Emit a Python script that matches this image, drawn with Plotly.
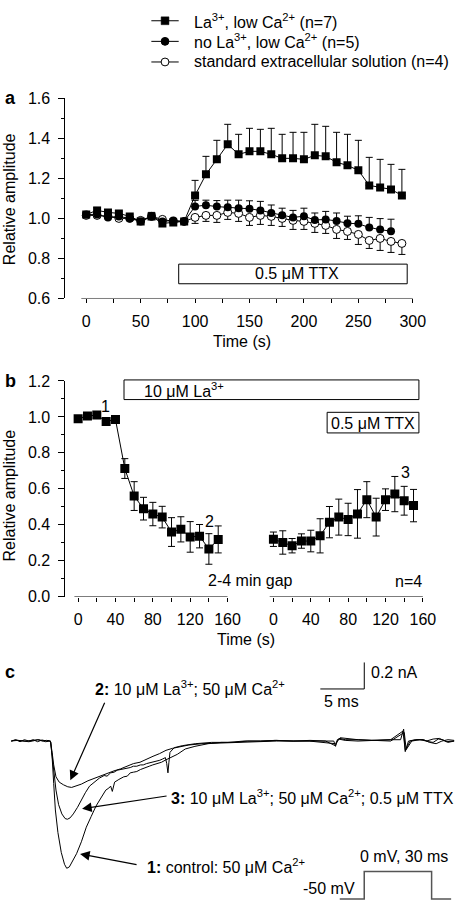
import plotly.graph_objects as go

W, H = 468, 912
FONT = "Liberation Sans, Arial, Helvetica, sans-serif"
FS = 16
LFS = 16

# ---------------- Panel a data ----------------
t_a = [0, 10, 20, 30, 40, 50, 60, 70, 80, 90, 100, 110, 120, 130, 140, 150, 160, 170, 180, 190,
       200, 210, 220, 230, 240, 250, 260, 270, 280, 290]
la_low = [1.02, 1.04, 1.03, 1.025, 1.01, 0.985, 1.01, 0.975, 0.98, 0.985, 1.115, 1.22, 1.295, 1.37, 1.32,
          1.335, 1.335, 1.32, 1.30, 1.30, 1.295, 1.315, 1.31, 1.28, 1.265, 1.24, 1.165, 1.155, 1.145, 1.115]
la_low_err = [0.01, 0.015, 0.01, 0.01, 0.01, 0.01, 0.02, 0.01, 0.01, 0.01, 0.075, 0.09, 0.095, 0.10, 0.10,
              0.115, 0.11, 0.13, 0.12, 0.13, 0.135, 0.155, 0.15, 0.15, 0.155, 0.15, 0.14, 0.14, 0.125, 0.13]

t_nola = [0, 10, 20, 30, 40, 50, 60, 70, 80, 90, 100, 110, 120, 130, 140, 150, 160, 170, 180, 190,
          200, 210, 220, 230, 240, 250, 260, 270, 280]
nola_low = [1.02, 1.02, 1.005, 1.01, 1.0, 0.985, 1.01, 0.985, 0.99, 0.985, 1.06, 1.066, 1.059, 1.056, 1.051,
            1.048, 1.04, 1.027, 1.016, 1.005, 1.011, 0.992, 0.995, 0.987, 0.976, 0.973, 0.955, 0.944, 0.936]
nola_low_err = [0.01, 0.01, 0.01, 0.01, 0.01, 0.01, 0.01, 0.01, 0.01, 0.01, 0.03, 0.025, 0.03, 0.035, 0.04,
                0.04, 0.045, 0.04, 0.035, 0.035, 0.04, 0.035, 0.04, 0.04, 0.035, 0.04, 0.05, 0.055, 0.06]

t_std = t_a
std_sol = [1.015, 1.015, 1.01, 1.0, 1.0, 0.99, 1.01, 0.995, 0.985, 0.985, 1.005, 1.015, 1.015, 1.03, 1.025,
           1.005, 1.015, 1.01, 1.0, 0.99, 0.985, 0.975, 0.965, 0.945, 0.935, 0.92, 0.89, 0.90, 0.885, 0.875]
std_sol_err = [0.01, 0.01, 0.01, 0.01, 0.01, 0.01, 0.01, 0.01, 0.01, 0.01, 0.03, 0.03, 0.035, 0.035, 0.04,
               0.04, 0.045, 0.045, 0.04, 0.045, 0.04, 0.045, 0.04, 0.045, 0.04, 0.05, 0.04, 0.06, 0.055, 0.055]

series_names = ["La<sup>3+</sup>, low Ca<sup>2+</sup> (n=7)",
                "no La<sup>3+</sup>, low Ca<sup>2+</sup> (n=5)",
                "standard extracellular solution (n=4)"]

a_xticks = [0, 50, 100, 150, 200, 250, 300]
a_yticks = [0.6, 0.8, 1.0, 1.2, 1.4, 1.6]

# ---------------- Panel b data ----------------
t_b = [0, 10, 20, 30, 40, 50, 60, 70, 80, 90, 100, 110, 120, 130, 140, 150]
b_before = [0.99, 1.005, 1.01, 0.975, 0.985, 0.713, 0.56, 0.49, 0.46, 0.443, 0.36, 0.375, 0.333, 0.337, 0.266, 0.319]
b_before_err = [0.01, 0.01, 0.01, 0.01, 0.01, 0.055, 0.08, 0.063, 0.065, 0.06, 0.08, 0.07, 0.085, 0.065, 0.085, 0.075]
b_after = [0.32, 0.302, 0.284, 0.31, 0.31, 0.339, 0.415, 0.443, 0.43, 0.461, 0.54, 0.443, 0.54, 0.571, 0.534, 0.507]
b_after_err = [0.04, 0.065, 0.04, 0.04, 0.06, 0.095, 0.087, 0.1, 0.09, 0.135, 0.1, 0.105, 0.06, 0.098, 0.08, 0.09]
b_xticks = [0, 40, 80, 120, 160]
b_yticks = [0.0, 0.2, 0.4, 0.6, 0.8, 1.0, 1.2]

# ---------------- Panel c data (ms, nA) ----------------
t1 = [-4.5, -4.0, -3.5, -3.0, -2.5, -2.0, -1.5, -1.0, -0.5, -0.2, 0.0, 0.15, 0.33, 0.52, 0.81, 1.19, 1.56, 1.81,
      2.11, 2.44, 2.93, 3.48, 4.04, 4.59, 5.15, 5.70, 6.26, 6.6, 6.81, 7.0, 7.26, 7.74, 8.3, 8.7, 9.04, 9.4, 9.78,
      10.2, 10.7, 11.2, 11.6, 12.1, 12.6, 13.0, 13.5, 14.0, 14.4, 15.3, 16.4, 17.9, 19.4, 20.9, 22.4, 23.9, 25.5,
      27.6, 29.5, 31.3, 32.2, 32.4, 32.6, 32.9, 33.5, 35.0, 36.5, 38.7, 39.8, 40.15, 40.33, 40.7, 41.5, 42.4,
      43.0, 43.5, 44.1, 44.6, 45.2, 45.9]
i_control = [0.0, 0.01, -0.005, 0.01, 0.0, 0.01, -0.005, 0.008, 0.0, 0.005, -0.01, -0.12, -0.32, -0.52, -0.69,
             -0.84, -0.93, -0.96, -0.95, -0.91, -0.85, -0.76, -0.65, -0.57, -0.49, -0.43, -0.37, -0.355, -0.34,
             -0.38, -0.31, -0.29, -0.27, -0.265, -0.24, -0.235, -0.23, -0.215, -0.20, -0.19, -0.18, -0.17, -0.16,
             -0.145, -0.13, -0.115, -0.10, -0.06, -0.04, -0.02, -0.01, -0.01, 0.0, 0.0, 0.005, 0.0, 0.005, 0.0,
             0.0, -0.04, 0.01, 0.02, 0.01, 0.01, 0.005, 0.01, 0.01, 0.09, -0.08, 0.0, 0.01, 0.01, -0.005, -0.01,
             0.015, 0.01, -0.01, 0.0]

t2 = [-4.5, -3.8, -2.8, -2.0, -1.33, -0.6, -0.04, 0.15, 0.33, 0.59, 0.96, 1.44, 1.93, 2.37, 2.93, 3.48, 4.22,
      4.96, 5.70, 6.44, 7.19, 7.93, 8.67, 9.41, 10.15, 10.89, 11.63, 12.37, 13.11, 13.85, 14.78, 15.70, 17.19,
      19.41, 22.0, 25.7, 29.4, 32.37, 32.93, 34.96, 38.67, 40.22, 40.44, 41.07, 42.0, 42.74, 43.5, 44.22, 45.0,
      45.89]
i_la = [0.0, 0.005, 0.0, 0.008, 0.01, -0.005, 0.0, -0.085, -0.18, -0.27, -0.31, -0.33, -0.345, -0.35, -0.34,
        -0.325, -0.30, -0.28, -0.26, -0.24, -0.225, -0.21, -0.19, -0.17, -0.16, -0.135, -0.115, -0.095, -0.07,
        -0.055, -0.04, -0.03, -0.02, -0.015, -0.01, 0.0, 0.0, -0.02, 0.025, 0.01, 0.0, 0.065, -0.065, 0.0, 0.01,
        0.0, 0.015, 0.02, -0.005, 0.0]

t3 = [-4.5, -4.0, -3.2, -2.5, -2.07, -1.5, -0.96, -0.5, -0.04, 0.15, 0.33, 0.59, 0.89, 1.26, 1.63, 1.89, 2.19,
      2.56, 3.04, 3.48, 3.93, 4.41, 4.96, 5.52, 6.07, 6.4, 6.81, 7.2, 7.56, 8.0, 8.30, 8.7, 9.04, 9.4, 9.78, 10.2,
      10.52, 10.9, 11.26, 11.6, 12.0, 12.4, 12.74, 13.04, 13.19, 13.33, 13.44, 13.56, 14.04, 14.96, 16.44, 18.3,
      20.15, 22.0, 23.85, 25.7, 27.56, 29.4, 31.26, 32.37, 32.74, 33.5, 34.96, 36.8, 38.67, 40.07, 40.33, 40.89,
      41.6, 42.37, 43.1, 43.85, 44.5, 45.2, 45.89]
i_la_ttx = [0.0, 0.008, 0.0, -0.005, 0.0, 0.01, 0.0, 0.005, 0.0, -0.11, -0.24, -0.37, -0.48, -0.55, -0.585,
            -0.59, -0.58, -0.55, -0.50, -0.44, -0.39, -0.34, -0.31, -0.28, -0.26, -0.265, -0.24, -0.235, -0.22,
            -0.215, -0.21, -0.205, -0.20, -0.19, -0.19, -0.18, -0.18, -0.17, -0.165, -0.16, -0.15, -0.145, -0.135,
            -0.125, -0.17, -0.24, -0.16, -0.085, -0.05, -0.035, -0.02, -0.01, -0.01, 0.0, 0.0, 0.005, 0.0, 0.0,
            0.0, -0.035, 0.015, 0.005, 0.0, 0.005, 0.01, 0.075, -0.07, 0.0, 0.01, 0.01, -0.01, -0.02, 0.0, 0.01,
            0.005]

# voltage protocol (ms, mV)
v_t = [-10.9, 0, 0, 30, 30, 38.7]
v_mv = [-50, -50, 0, 0, -50, -50]


def px(x):
    return x / W


def py(y):
    return 1 - y / H


fig = go.Figure()

# ----- panel a traces (drawn bottom to top) -----
fig.add_trace(go.Scatter(
    x=t_std, y=std_sol, mode="lines+markers", name=series_names[2], xaxis="x", yaxis="y",
    line=dict(color="black", width=1),
    marker=dict(symbol="circle", size=8, color="white", line=dict(color="black", width=1)),
    error_y=dict(type="data", symmetric=False, array=[0] * len(std_sol), arrayminus=std_sol_err,
                 color="black", thickness=1, width=3.5)))
fig.add_trace(go.Scatter(
    x=t_nola, y=nola_low, mode="lines+markers", name=series_names[1], xaxis="x", yaxis="y",
    line=dict(color="black", width=1),
    marker=dict(symbol="circle", size=8, color="black"),
    error_y=dict(type="data", symmetric=False, array=nola_low_err, arrayminus=[0] * len(nola_low),
                 color="black", thickness=1, width=3.5)))
fig.add_trace(go.Scatter(
    x=t_a, y=la_low, mode="lines+markers", name=series_names[0], xaxis="x", yaxis="y",
    line=dict(color="black", width=1),
    marker=dict(symbol="square", size=8, color="black"),
    error_y=dict(type="data", symmetric=False, array=la_low_err, arrayminus=[0] * len(la_low),
                 color="black", thickness=1, width=3.5)))

# ----- panel b traces -----
fig.add_trace(go.Scatter(
    x=t_b, y=b_before, mode="lines+markers", xaxis="x2", yaxis="y2",
    line=dict(color="black", width=1),
    marker=dict(symbol="square", size=9, color="black"),
    error_y=dict(type="data", array=b_before_err, color="black", thickness=1, width=3.5)))
fig.add_trace(go.Scatter(
    x=t_b, y=b_after, mode="lines+markers", xaxis="x3", yaxis="y2",
    line=dict(color="black", width=1),
    marker=dict(symbol="square", size=9, color="black"),
    error_y=dict(type="data", array=b_after_err, color="black", thickness=1, width=3.5)))

# ----- panel c traces -----
for tt, ii in [(t1, i_control), (t2, i_la), (t3, i_la_ttx)]:
    fig.add_trace(go.Scatter(x=tt, y=ii, mode="lines", xaxis="x4", yaxis="y3",
                             line=dict(color="black", width=1)))
fig.add_trace(go.Scatter(x=v_t, y=v_mv, mode="lines", xaxis="x5", yaxis="y4",
                         line=dict(color="#555555", width=1.5)))

tickfont = dict(family=FONT, size=FS, color="black")
xcommon = dict(showline=False, showgrid=False, zeroline=False, ticks="outside", ticklen=4, tickwidth=1,
               tickcolor="black", tickfont=tickfont, ticklabelstandoff=4)
ycommon = dict(showline=True, linecolor="black", linewidth=1, showgrid=False, zeroline=False,
               ticks="outside", ticklen=6, tickwidth=1, tickcolor="black", tickfont=tickfont,
               tickformat=".1f", ticklabelstandoff=5)

fig.update_layout(
    width=W, height=H, autosize=False,
    margin=dict(l=0, r=0, t=0, b=0),
    paper_bgcolor="white", plot_bgcolor="rgba(0,0,0,0)",
    font=dict(family=FONT, size=FS, color="black"),
    showlegend=False,
    xaxis=dict(domain=[px(67), px(425)], range=[-19.1, 302.05], anchor="y", tickvals=a_xticks,
               minor=dict(dtick=25, ticklen=4, ticks="outside", tickcolor="black"), **xcommon),
    yaxis=dict(domain=[py(296), py(92)], range=[0.6, 1.6], anchor="x", tickvals=a_yticks,
               minor=dict(dtick=0.1, ticklen=3, ticks="outside", tickcolor="black"), **ycommon),
    xaxis2=dict(domain=[px(67), px(236)], range=[-13.6, 163.1], anchor="y2", tickvals=b_xticks,
                minor=dict(dtick=20, ticklen=4, ticks="outside", tickcolor="black"), **xcommon),
    xaxis3=dict(domain=[px(272), px(436)], range=[-8.37, 163.1], anchor="y2", tickvals=b_xticks,
                minor=dict(dtick=20, ticklen=4, ticks="outside", tickcolor="black"), **xcommon),
    yaxis2=dict(domain=[py(600), py(380)], range=[0, 1.2], anchor="x2", tickvals=b_yticks,
                minor=dict(dtick=0.1, ticklen=3, ticks="outside", tickcolor="black"), **ycommon),
    xaxis4=dict(domain=[0, 1], range=[-5.78, 46.22], anchor="y3", visible=False),
    yaxis3=dict(domain=[0, py(660)], range=[-1.222, 0.644], anchor="x4", visible=False),
    xaxis5=dict(domain=[px(346), px(464)], range=[-11.74, 39.57], anchor="y4", visible=False),
    yaxis4=dict(domain=[py(910), py(878)], range=[-53.57, 3.57], anchor="x5", visible=False),
)

shapes = []
blk = dict(color="black", width=1)
# detached x-axis lines
shapes.append(dict(type="line", xref="x", yref="y", x0=-4.5, x1=300, y0=0.6, y1=0.6, line=blk))
shapes.append(dict(type="line", xref="x2", yref="y2", x0=-4, x1=160, y0=0, y1=0, line=blk))
shapes.append(dict(type="line", xref="x3", yref="y2", x0=-4, x1=160, y0=0, y1=0, line=blk))
# boxes
for (x0, y0, x1, y1) in [(183, 261, 417, 281), (127, 379, 429, 399), (335, 412, 429, 433)]:
    shapes.append(dict(type="rect", xref="paper", yref="paper", x0=px(x0), x1=px(x1), y0=py(y1), y1=py(y0),
                       line=blk, fillcolor="white", layer="above"))
# scale bars panel c
shapes.append(dict(type="line", xref="x4", yref="y3", x0=30.67, x1=35.67, y0=0.393, y1=0.393, line=blk))
shapes.append(dict(type="line", xref="x4", yref="y3", x0=35.67, x1=35.67, y0=0.393, y1=0.593, line=blk))

# manual legend keys
leg_rows = [13, 34, 55]
for k, yy in enumerate(leg_rows):
    shapes.append(dict(type="line", xref="paper", yref="paper", x0=px(155), x1=px(183), y0=py(yy), y1=py(yy),
                       line=blk))
    if k == 0:
        shapes.append(dict(type="rect", xref="paper", yref="paper", x0=px(165), x1=px(173),
                           y0=py(yy + 4), y1=py(yy - 4), line=dict(color="black", width=0.5),
                           fillcolor="black"))
    else:
        shapes.append(dict(type="circle", xref="paper", yref="paper", x0=px(165), x1=px(173),
                           y0=py(yy + 4), y1=py(yy - 4), line=blk,
                           fillcolor="black" if k == 1 else "white"))
fig.update_layout(shapes=shapes)

ann = []


def txt(text, x, y, xanchor="center", size=FS, angle=0):
    ann.append(dict(text=text, xref="paper", yref="paper", x=px(x), y=py(y), xanchor=xanchor,
                    yanchor="middle", showarrow=False, textangle=angle,
                    font=dict(family=FONT, size=size, color="black")))


for name, yy in zip(series_names, leg_rows):
    txt(name, 197, yy, "left", LFS)

txt("<b>a</b>", 3, 92, "left", 18)
txt("<b>b</b>", 3, 380, "left", 18)
txt("<b>c</b>", 3, 677, "left", 18)
txt("Relative amplitude", 10, 195, angle=-90)
txt("Relative amplitude", 10, 497, angle=-90)
txt("Time (s)", 248, 340)
txt("Time (s)", 252, 643)
txt("0.5 μM TTX", 304, 271)
txt("10 μM La<sup>3+</sup>", 145, 389, "left")
txt("0.5 μM TTX", 382, 423)
txt("1", 108, 406)
txt("2", 215, 523)
txt("3", 415, 473)
txt("2-4 min gap", 257, 583)
txt("n=4", 418, 584)
txt("<b>2:</b> 10 μM La<sup>3+</sup>; 50 μM Ca<sup>2+</sup>", 195, 693)
txt("<b>3:</b> 10 μM La<sup>3+</sup>; 50 μM Ca<sup>2+</sup>; 0.5 μM TTX", 173, 804, "left")
txt("<b>1:</b> control: 50 μM Ca<sup>2+</sup>", 148, 874, "left")
txt("0 mV, 30 ms", 414, 865)
txt("-50 mV", 366, 897, "right")
txt("0.2 nA", 378, 677, "left")
txt("5 ms", 350, 707)

# arrows in panel c (tip in data coords, tail offset in px)
for (tx, ti, ax, ay) in [(2.22, -0.296, 35, -79), (3.56, -0.511, 86, -13), (3.33, -0.852, 58, 11)]:
    ann.append(dict(text="", xref="x4", yref="y3", x=tx, y=ti, ax=ax, ay=ay, showarrow=True,
                    arrowhead=2, arrowsize=1.6, arrowwidth=1.2, arrowcolor="black"))

fig.update_layout(annotations=ann)

fig.write_html("out.html", config={"displayModeBar": False},
               post_script="document.body.style.margin='0';")
